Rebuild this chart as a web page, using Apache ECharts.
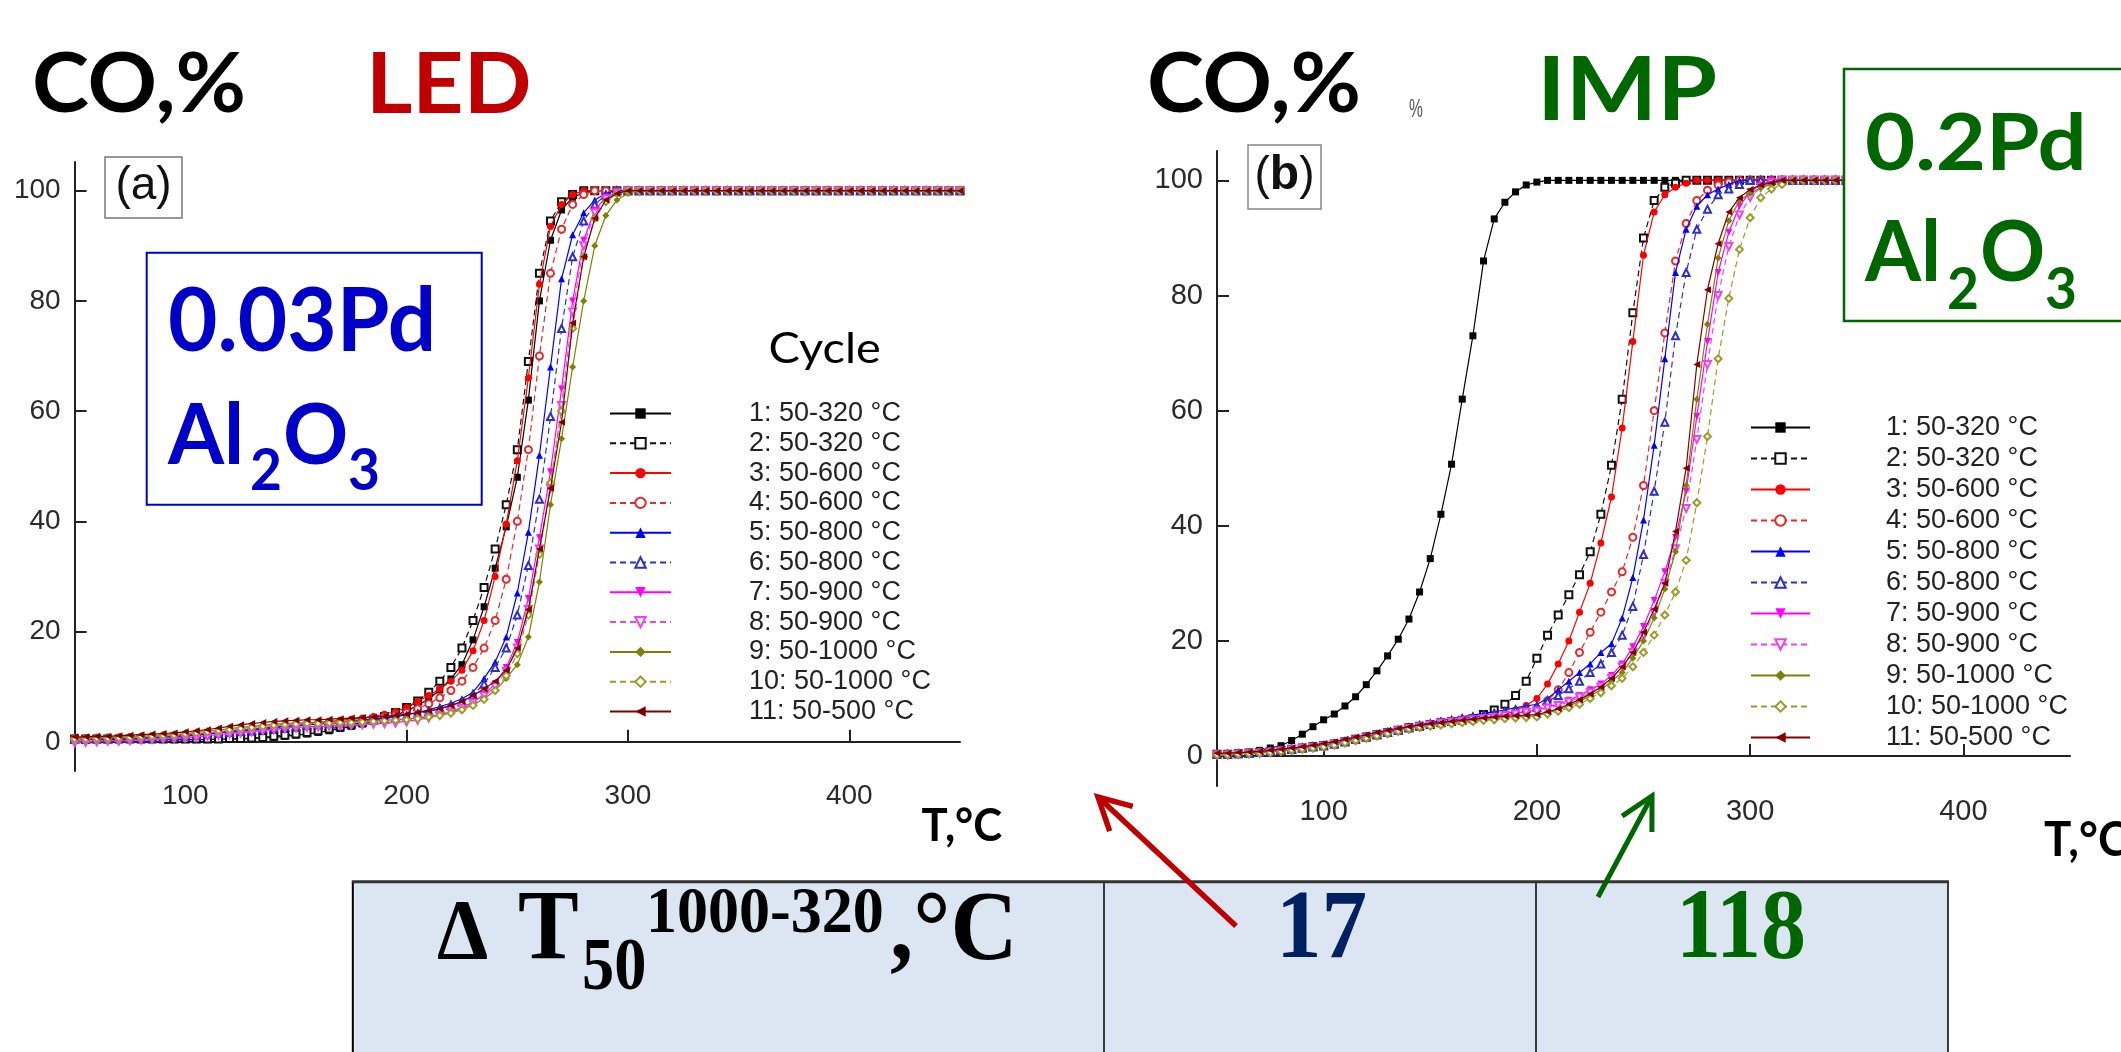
<!DOCTYPE html>
<html>
<head>
<meta charset="utf-8">
<script src="https://cdn.jsdelivr.net/npm/echarts/dist/echarts.min.js"></script>
<style>
html,body{margin:0;padding:0;background:#fff;}
#c{width:2121px;height:1052px;}
</style>
</head>
<body>
<div id="c"></div>
<script>
// ---------- DATA ----------
const temps = [50,55,60,65,70,75,80,85,90,95,100,105,110,115,120,125,130,135,140,145,150,155,160,165,170,175,180,185,190,195,200,205,210,215,220,225,230,235,240,245,250,255,260,265,270,275,280,285,290,295,300,305,310,315,320,325,330,335,340,345,350,355,360,365,370,375,380,385,390,395,400,405,410,415,420,425,430,435,440,445,450];
const xTicks = [100,200,300,400];
const yTicks = [0,20,40,60,80,100];
const cycleNames = ['1: 50-320 °C','2: 50-320 °C','3: 50-600 °C','4: 50-600 °C','5: 50-800 °C','6: 50-800 °C','7: 50-900 °C','8: 50-900 °C','9: 50-1000 °C','10: 50-1000 °C','11: 50-500 °C'];

// LED 0.03Pd/Al2O3 (chart a), CO conversion %, at temps
const ledS1 = [0.4,0.4,0.4,0.4,0.4,0.4,0.4,0.4,0.4,0.4,0.4,0.4,0.4,0.5,0.5,0.5,0.6,0.7,0.8,1.0,1.2,1.4,1.7,2.0,2.4,2.8,3.2,3.7,4.2,4.8,5.6,6.6,7.8,9.4,11.4,14,18.5,24.5,31.5,39,48,62,80,91,96.5,98.8,99.6,100,100,100,100,100,100,100,100,100,100,100,100,100,100,100,100,100,100,100,100,100,100,100,100,100,100,100,100,100,100,100,100,100,100];
const ledS2 = [0.5,0.5,0.5,0.5,0.5,0.5,0.5,0.5,0.5,0.5,0.5,0.5,0.5,0.5,0.6,0.6,0.7,0.8,1.0,1.2,1.4,1.7,2.0,2.3,2.7,3.1,3.5,4.0,4.6,5.3,6.2,7.4,9,11,13.5,17,22,28,35,43,53,69,85,94.5,98,99.3,100,100,100,100,100,100,100,100,100,100,100,100,100,100,100,100,100,100,100,100,100,100,100,100,100,100,100,100,100,100,100,100,100,100,100];
const ledS3 = [0.7,0.7,0.7,0.8,0.8,0.9,0.9,1.0,1.1,1.2,1.3,1.4,1.5,1.7,1.9,2.1,2.3,2.5,2.7,2.9,3.1,3.3,3.5,3.7,3.9,4.1,4.3,4.6,5.0,5.5,6.2,7.3,8.4,9.6,11,13,16.5,22,30,39.5,51,66,83,93.5,97.5,99.3,100,100,100,100,100,100,100,100,100,100,100,100,100,100,100,100,100,100,100,100,100,100,100,100,100,100,100,100,100,100,100,100,100,100,100];
const ledS4 = [0.6,0.6,0.6,0.7,0.7,0.8,0.8,0.9,1.0,1.1,1.2,1.3,1.5,1.7,1.9,2.1,2.3,2.5,2.7,2.9,3.0,3.2,3.3,3.5,3.6,3.8,4.0,4.2,4.5,4.8,5.3,6.0,6.9,8.0,9.3,11,13.5,17,22,29.5,40,53,70,85,93,97.5,99.3,100,100,100,100,100,100,100,100,100,100,100,100,100,100,100,100,100,100,100,100,100,100,100,100,100,100,100,100,100,100,100,100,100,100];
const ledS5 = [0.5,0.5,0.5,0.6,0.6,0.7,0.7,0.8,0.9,1.0,1.1,1.2,1.4,1.6,1.8,2.0,2.2,2.4,2.6,2.8,2.9,3.1,3.2,3.4,3.5,3.7,3.9,4.1,4.3,4.6,4.9,5.3,5.8,6.4,7.0,7.8,9,11.5,14.5,19,27,38,52,68,84,92,96,98.3,99.5,100,100,100,100,100,100,100,100,100,100,100,100,100,100,100,100,100,100,100,100,100,100,100,100,100,100,100,100,100,100,100,100];
const ledS6 = [0.4,0.4,0.5,0.5,0.6,0.6,0.7,0.7,0.8,0.9,1.0,1.1,1.3,1.5,1.7,1.9,2.1,2.3,2.5,2.7,2.8,3.0,3.1,3.3,3.4,3.6,3.8,4.0,4.2,4.4,4.7,5.1,5.5,6.0,6.6,7.2,8.5,10.5,13.5,17,23,32,44,59,75,88,94.5,97.5,99.2,100,100,100,100,100,100,100,100,100,100,100,100,100,100,100,100,100,100,100,100,100,100,100,100,100,100,100,100,100,100,100,100];
const ledS7 = [0.0,0.0,0.1,0.1,0.2,0.3,0.4,0.5,0.6,0.7,0.8,0.9,1.1,1.3,1.5,1.7,1.9,2.1,2.3,2.5,2.6,2.7,2.8,2.9,3.0,3.1,3.2,3.3,3.4,3.5,3.7,4.0,4.4,4.9,5.5,6.2,7.2,8.6,10.5,13.5,18,26,37,49,64,80,91,96.5,98.8,99.7,100,100,100,100,100,100,100,100,100,100,100,100,100,100,100,100,100,100,100,100,100,100,100,100,100,100,100,100,100,100,100];
const ledS8 = [-0.2,-0.1,0.0,0.1,0.1,0.2,0.3,0.4,0.5,0.6,0.7,0.8,1.0,1.2,1.4,1.6,1.8,2.0,2.2,2.4,2.5,2.6,2.7,2.8,2.9,3.0,3.1,3.2,3.3,3.4,3.6,3.9,4.3,4.8,5.4,6.1,7,8.3,10,12.8,17,24,35,46,61,78,90,96,98.5,99.6,100,100,100,100,100,100,100,100,100,100,100,100,100,100,100,100,100,100,100,100,100,100,100,100,100,100,100,100,100,100,100];
const ledS9 = [0.6,0.6,0.7,0.7,0.8,0.9,1.0,1.1,1.2,1.3,1.5,1.7,1.9,2.1,2.4,2.6,2.8,3.0,3.2,3.3,3.4,3.5,3.5,3.6,3.6,3.7,3.7,3.8,3.9,4.0,4.1,4.3,4.6,4.9,5.3,5.9,6.7,7.8,9.3,11.5,14,19,29,43,55,68,80,90,95.5,98.3,99.5,100,100,100,100,100,100,100,100,100,100,100,100,100,100,100,100,100,100,100,100,100,100,100,100,100,100,100,100,100,100];
const ledS10 = [0.5,0.5,0.6,0.6,0.7,0.8,0.9,1.0,1.1,1.2,1.4,1.6,1.8,2.0,2.2,2.4,2.6,2.8,3.0,3.1,3.2,3.3,3.3,3.4,3.5,3.5,3.6,3.7,3.8,3.9,4.0,4.2,4.5,4.8,5.2,5.8,6.6,7.7,9.3,12,16,23,34,47,60,75,88,95,98,99.5,100,100,100,100,100,100,100,100,100,100,100,100,100,100,100,100,100,100,100,100,100,100,100,100,100,100,100,100,100,100,100];
const ledS11 = [0.9,0.9,1.0,1.0,1.1,1.2,1.3,1.4,1.5,1.6,1.8,2.0,2.2,2.5,2.8,3.1,3.3,3.5,3.7,3.8,3.9,4.0,4.0,4.1,4.2,4.3,4.4,4.5,4.6,4.8,5.0,5.3,5.6,6.0,6.6,7.3,8.4,9.6,11,13,17,24,35,46,58,76,88,95,98.3,99.5,100,100,100,100,100,100,100,100,100,100,100,100,100,100,100,100,100,100,100,100,100,100,100,100,100,100,100,100,100,100,100];

// IMP 0.2Pd/Al2O3 (chart b)
const impS1 = [0.3,0.4,0.5,0.7,1.0,1.4,1.8,2.7,3.8,5.1,6.3,7.3,8.7,10.3,12.4,14.8,17.4,20.3,23.8,28.5,34.3,42,50.7,62,73,86,93.3,96.2,98,99.2,99.7,100,100,100,100,100,100,100,100,100,100,100,100,100,100,100,100,100,100,100,100,100,100,100,100,100,100,100,100,100,100,100,100,100,100,100,100,100,100,100,100,100,100,100,100,100,100,100,100,100,100];
const impS2 = [0.3,0.3,0.4,0.5,0.6,0.8,1.0,1.2,1.4,1.6,1.8,2.1,2.5,2.9,3.3,3.7,4.1,4.5,4.9,5.2,5.5,5.8,6.0,6.2,6.5,7.2,8.0,9.0,10.5,13,17,21,24.5,28,31.5,35.5,42,50.5,62,77,90,96.5,98.8,99.5,100,100,100,100,100,100,100,100,100,100,100,100,100,100,100,100,100,100,100,100,100,100,100,100,100,100,100,100,100,100,100,100,100,100,100,100,100];
const impS3 = [0.3,0.3,0.4,0.5,0.6,0.8,1.0,1.2,1.4,1.6,1.8,2.1,2.5,2.9,3.3,3.7,4.1,4.5,4.9,5.2,5.5,5.8,6.0,6.2,6.4,6.6,6.9,7.3,7.9,8.8,10,12.5,16,20,25,30,37,45,57,72,87,94.5,97.5,98.8,99.5,100,100,100,100,100,100,100,100,100,100,100,100,100,100,100,100,100,100,100,100,100,100,100,100,100,100,100,100,100,100,100,100,100,100,100,100];
const impS4 = [0.3,0.3,0.4,0.5,0.6,0.7,0.9,1.1,1.3,1.5,1.7,2.0,2.4,2.8,3.2,3.6,4.0,4.4,4.8,5.1,5.4,5.7,5.9,6.1,6.3,6.5,6.8,7.1,7.4,7.8,8.2,9.6,11.5,14.5,18,21.5,25,28.5,32,38,47,60,73.5,86,92.5,96.5,98.3,99.2,99.7,100,100,100,100,100,100,100,100,100,100,100,100,100,100,100,100,100,100,100,100,100,100,100,100,100,100,100,100,100,100,100,100];
const impS5 = [0.3,0.3,0.4,0.5,0.6,0.8,1.0,1.2,1.4,1.7,1.9,2.2,2.6,3.0,3.4,3.8,4.2,4.6,5.0,5.4,5.8,6.2,6.5,6.8,7.1,7.4,7.7,8.0,8.4,8.7,9,10,11.5,13,14.5,16,18,19.5,24,31,41,54,69,84,91.5,95.5,97.5,98.5,99.3,100,100,100,100,100,100,100,100,100,100,100,100,100,100,100,100,100,100,100,100,100,100,100,100,100,100,100,100,100,100,100,100];
const impS6 = [0.3,0.3,0.4,0.5,0.6,0.8,1.0,1.2,1.4,1.6,1.8,2.1,2.5,2.9,3.3,3.7,4.1,4.5,4.9,5.3,5.6,5.9,6.2,6.5,6.8,7.1,7.4,7.7,8.0,8.3,8.5,9.5,10.5,11.7,13,14.5,16,18,21,26,35,46,58,73,84,91.5,95,97.5,98.5,99.3,100,100,100,100,100,100,100,100,100,100,100,100,100,100,100,100,100,100,100,100,100,100,100,100,100,100,100,100,100,100,100];
const impS7 = [0.2,0.3,0.4,0.5,0.6,0.8,1.0,1.2,1.4,1.6,1.8,2.1,2.5,2.9,3.3,3.7,4.1,4.5,4.9,5.2,5.5,5.8,6.0,6.2,6.4,6.6,6.8,7.1,7.4,7.7,8,8.5,9,9.7,10.5,11.5,12.5,14,16,19,22.5,27,32,38,46,59,72,84,91,95.5,98,99.2,100,100,100,100,100,100,100,100,100,100,100,100,100,100,100,100,100,100,100,100,100,100,100,100,100,100,100,100,100];
const impS8 = [0.2,0.2,0.3,0.4,0.5,0.7,0.9,1.1,1.3,1.5,1.7,2.0,2.4,2.8,3.2,3.6,4.0,4.4,4.8,5.1,5.4,5.7,5.9,6.1,6.3,6.5,6.7,7.0,7.3,7.6,7.8,8.3,8.8,9.4,10.2,11,12,13.5,15.5,18,21,25,30,36,43,55,68,80,88.5,94,97,98.8,99.6,100,100,100,100,100,100,100,100,100,100,100,100,100,100,100,100,100,100,100,100,100,100,100,100,100,100,100,100];
const impS9 = [0.3,0.3,0.4,0.5,0.6,0.7,0.9,1.1,1.3,1.5,1.7,2.0,2.4,2.8,3.2,3.6,4.0,4.4,4.8,5.1,5.3,5.5,5.7,5.9,6.1,6.3,6.5,6.7,6.8,6.9,7,7.5,8,8.7,9.5,10.5,11.5,13,14.5,17,20,24,29,35.5,47,62,75,86.5,93,96.5,97.7,98.7,99.3,100,100,100,100,100,100,100,100,100,100,100,100,100,100,100,100,100,100,100,100,100,100,100,100,100,100,100,100];
const impS10 = [0.2,0.2,0.3,0.4,0.5,0.6,0.8,1.0,1.2,1.4,1.6,1.9,2.3,2.7,3.1,3.5,3.9,4.3,4.7,5.0,5.2,5.4,5.6,5.8,6.0,6.2,6.3,6.5,6.6,6.7,6.8,7.3,7.8,8.4,9,10,11,12.2,13.5,15.5,18,21,24.5,28.5,34,44,55.5,69,79.5,88,93.5,97,98.5,99.3,100,100,100,100,100,100,100,100,100,100,100,100,100,100,100,100,100,100,100,100,100,100,100,100,100,100,100];
const impS11 = [0.5,0.5,0.6,0.7,0.8,1.0,1.2,1.4,1.6,1.9,2.2,2.5,2.9,3.3,3.7,4.1,4.5,4.8,5.1,5.4,5.6,5.8,6.0,6.2,6.4,6.6,6.8,6.9,7.0,7.1,7.2,7.7,8.2,9,9.8,10.8,12,13.5,15.5,18,21.5,25.5,30,39,50,68,81,89,94.5,97,98.4,99.2,99.6,100,100,100,100,100,100,100,100,100,100,100,100,100,100,100,100,100,100,100,100,100,100,100,100,100,100,100,100];

const ledSeries = [ledS1,ledS2,ledS3,ledS4,ledS5,ledS6,ledS7,ledS8,ledS9,ledS10,ledS11];
const impSeries = [impS1,impS2,impS3,impS4,impS5,impS6,impS7,impS8,impS9,impS10,impS11];

// ---------- STYLES ----------
const colors  = ['#000000','#111111','#ff0000','#e8282a','#0000ff','#2f2fc8','#ff00ff','#f040f0','#808000','#9c9c2c','#800000'];
const symbols = ['rect','emptyRect','circle','emptyCircle','triangle','emptyTriangle','triangle','emptyTriangle','diamond','emptyDiamond','triangle'];
const rotates = [0,0,0,0,0,0,180,180,0,0,90];
const dashed  = [false,true,false,true,false,true,false,true,false,true,false];

function buildSeries(arrs, axisIdx) {
  return arrs.map((vals, k) => ({
    type: 'line',
    name: cycleNames[k],
    xAxisIndex: axisIdx,
    yAxisIndex: axisIdx,
    data: temps.map((t, i) => [t, vals[i]]),
    symbol: symbols[k],
    symbolRotate: rotates[k],
    symbolSize: 7,
    showAllSymbol: true,
    lineStyle: { color: colors[k], width: 1.2, type: dashed[k] ? [6, 4] : 'solid' },
    itemStyle: { color: colors[k], borderWidth: 1 },
    emphasis: { disabled: true },
    z: 2 + k
  }));
}

function axisX(grid, fs) {
  return {
    type: 'value', gridIndex: grid, min: 50, max: 450,
    axisLine: { lineStyle: { color: '#222', width: 2 } },
    axisTick: { inside: true, length: 12, customValues: xTicks, lineStyle: { color: '#222', width: 2 } },
    axisLabel: { customValues: xTicks, fontFamily: 'Liberation Sans', fontSize: fs, color: '#2a2a2a', margin: 11 },
    splitLine: { show: false }
  };
}
function axisY(grid, fs, mn, mx) {
  return {
    type: 'value', gridIndex: grid, min: mn, max: mx,
    axisLine: { show: true, lineStyle: { color: '#222', width: 2 } },
    axisTick: { show: true, inside: true, length: 12, customValues: yTicks, lineStyle: { color: '#222', width: 2 } },
    axisLabel: { customValues: yTicks, fontFamily: 'Liberation Sans', fontSize: fs, color: '#2a2a2a', margin: 14 },
    splitLine: { show: false }
  };
}

function legendCfg(left, top, iw, gap, pad) {
  return {
    orient: 'vertical', left: left, top: top, padding: 0,
    itemWidth: iw, itemHeight: 13, itemGap: gap,
    data: cycleNames,
    selectedMode: false,
    textStyle: { fontFamily: 'Liberation Sans', fontSize: 27, color: '#222', lineHeight: 27, padding: [0, 0, 0, pad] }
  };
}

// ---------- ANNOTATIONS ----------
function txt(x, y, text, font, fill, opts) {
  opts = opts || {};
  return {
    type: 'text', x: x, y: y, scaleX: opts.sx || 1, z: 110,
    style: { text: text, font: font, fill: fill, textAlign: opts.align || 'left', textVerticalAlign: 'middle', verticalAlign: 'middle', rich: opts.rich }
  };
}
function arrow(tail, tip, color, w) {
  const dx = tail[0] - tip[0], dy = tail[1] - tip[1];
  const L = Math.hypot(dx, dy), ux = dx / L, uy = dy / L;
  const a = 28 * Math.PI / 180, len = 36;
  const r = s => [tip[0] + len * (ux * Math.cos(s * a) - uy * Math.sin(s * a)), tip[1] + len * (ux * Math.sin(s * a) + uy * Math.cos(s * a))];
  return [
    { type: 'line', z: 110, shape: { x1: tail[0], y1: tail[1], x2: tip[0] + ux * 2, y2: tip[1] + uy * 2 }, style: { stroke: color, lineWidth: w } },
    { type: 'polyline', z: 110, shape: { points: [r(1), tip, r(-1)] }, style: { stroke: color, lineWidth: w, fill: null, lineJoin: 'miter' } }
  ];
}

const lato = (w, s) => (w ? 'bold ' : '') + s + 'px Lato';
const serif = s => 'bold ' + s + 'px "Liberation Serif", "Times New Roman", serif';

const graphics = [
  // titles
  txt(32, 86, 'CO,%', lato(1, 82), '#000', { sx: 1.05 }),
  txt(366, 86, 'LED', lato(1, 85), '#c00000', { sx: 1.05 }),
  txt(1147, 86, 'CO,%', lato(1, 82), '#000', { sx: 1.05 }),
  txt(1409, 110, '%', '26px "Liberation Sans"', '#555', { sx: 0.6 }),
  txt(1537, 92, 'IMP', lato(1, 88), '#006600', { sx: 1.1 }),
  // panel labels
  { type: 'rect', z: 105, shape: { x: 105, y: 157, width: 77, height: 61 }, style: { fill: '#fff', stroke: '#777', lineWidth: 1.5 } },
  txt(143.5, 186, '(a)', '46px "Liberation Sans"', '#111', { align: 'center' }),
  { type: 'rect', z: 105, shape: { x: 1248, y: 145, width: 73, height: 64 }, style: { fill: '#fff', stroke: '#888', lineWidth: 1.5 } },
  txt(1284.5, 176, '({b|b})', '46px "Liberation Sans"', '#111', { align: 'center', rich: { b: { fontWeight: 'bold', fontSize: 48, fontFamily: 'Liberation Sans', fill: '#111' } } }),
  // blue box (left)
  { type: 'rect', z: 105, shape: { x: 146.7, y: 252.7, width: 335, height: 252 }, style: { fill: '#fff', stroke: '#0000cc', lineWidth: 2 } },
  txt(168, 323, '0.03Pd', lato(1, 88), '#0000c8', { sx: 0.97 }),
  txt(168, 437, 'Al', lato(1, 85), '#0000c8', { sx: 0.95 }),
  txt(250, 471, '2', lato(1, 58), '#0000c8', { sx: 0.95 }),
  txt(283, 437, 'O', lato(1, 85), '#0000c8', { sx: 0.95 }),
  txt(348, 471, '3', lato(1, 58), '#0000c8', { sx: 0.95 }),
  // green box (right)
  { type: 'rect', z: 105, shape: { x: 1844, y: 69, width: 300, height: 252 }, style: { fill: '#fff', stroke: '#006600', lineWidth: 2.5 } },
  txt(1865, 145, '0.2Pd', lato(1, 78), '#006600', { sx: 1.11 }),
  txt(1865, 254, 'Al', lato(1, 85), '#006600', { sx: 0.95 }),
  txt(1947, 290, '2', lato(1, 58), '#006600', { sx: 0.95 }),
  txt(1980, 254, 'O', lato(1, 85), '#006600', { sx: 0.95 }),
  txt(2045, 290, '3', lato(1, 58), '#006600', { sx: 0.95 }),
  // legend title & axis names
  txt(768.5, 349, 'Cycle', lato(0, 43), '#000', { sx: 1.09 }),
  txt(921.6, 826.5, 'T,°C', lato(1, 46), '#000', { sx: 0.95 }),
  txt(2044, 840.5, 'T,°C', lato(1, 48), '#000', { sx: 0.95 }),
  // table
  { type: 'rect', z: 100, shape: { x: 352.8, y: 881.7, width: 1595.2, height: 180 }, style: { fill: '#dce6f2', stroke: null } },
  { type: 'line', z: 101, shape: { x1: 352.8, y1: 881.7, x2: 352.8, y2: 1060 }, style: { stroke: '#000', lineWidth: 2 } },
  { type: 'line', z: 101, shape: { x1: 1104, y1: 881.7, x2: 1104, y2: 1060 }, style: { stroke: '#000', lineWidth: 1.5 } },
  { type: 'line', z: 101, shape: { x1: 1536, y1: 881.7, x2: 1536, y2: 1060 }, style: { stroke: '#000', lineWidth: 1.5 } },
  { type: 'line', z: 101, shape: { x1: 1948, y1: 881.7, x2: 1948, y2: 1060 }, style: { stroke: '#000', lineWidth: 1.5 } },
  { type: 'line', z: 102, shape: { x1: 351.8, y1: 881.7, x2: 1949, y2: 881.7 }, style: { stroke: '#333', lineWidth: 3 } },
  txt(437, 937, 'Δ', serif(86), '#000', { sx: 0.95 }),
  txt(518, 932, 'T', serif(100), '#000', { sx: 0.91 }),
  txt(582, 970, '50', serif(74), '#000', { sx: 0.87 }),
  txt(646, 915, '1000-320', serif(66), '#000', { sx: 0.94 }),
  txt(890, 933, ',°C', serif(100), '#000', { sx: 0.93 }),
  txt(1276, 932, '17', serif(98), '#002060', { sx: 0.93 }),
  txt(1676, 931.5, '118', serif(100), '#006600', { sx: 0.9 })
].concat(arrow([1236, 926], [1098, 797], '#c00000', 5.5))
 .concat(arrow([1598, 897], [1652, 796], '#006600', 5));

// ---------- CHART ----------
const chart = echarts.init(document.getElementById('c'), null, { renderer: 'canvas' });
chart.setOption({
  animation: false,
  backgroundColor: '#fff',
  grid: [
    { left: 74.6, top: 162, width: 885.4, height: 609 },
    { left: 1217, top: 151, width: 853, height: 635 }
  ],
  xAxis: [axisX(0, 28), axisX(1, 29)],
  yAxis: [axisY(0, 28, -5.3, 105.2), axisY(1, 29, -5.2, 105.1)],
  legend: [
    legendCfg(609, 400, 61, 2.8, 73),
    legendCfg(1750, 414, 59, 4, 71)
  ],
  series: buildSeries(ledSeries, 0).concat(buildSeries(impSeries, 1)),
  graphic: { elements: graphics }
});
</script>
</body>
</html>
